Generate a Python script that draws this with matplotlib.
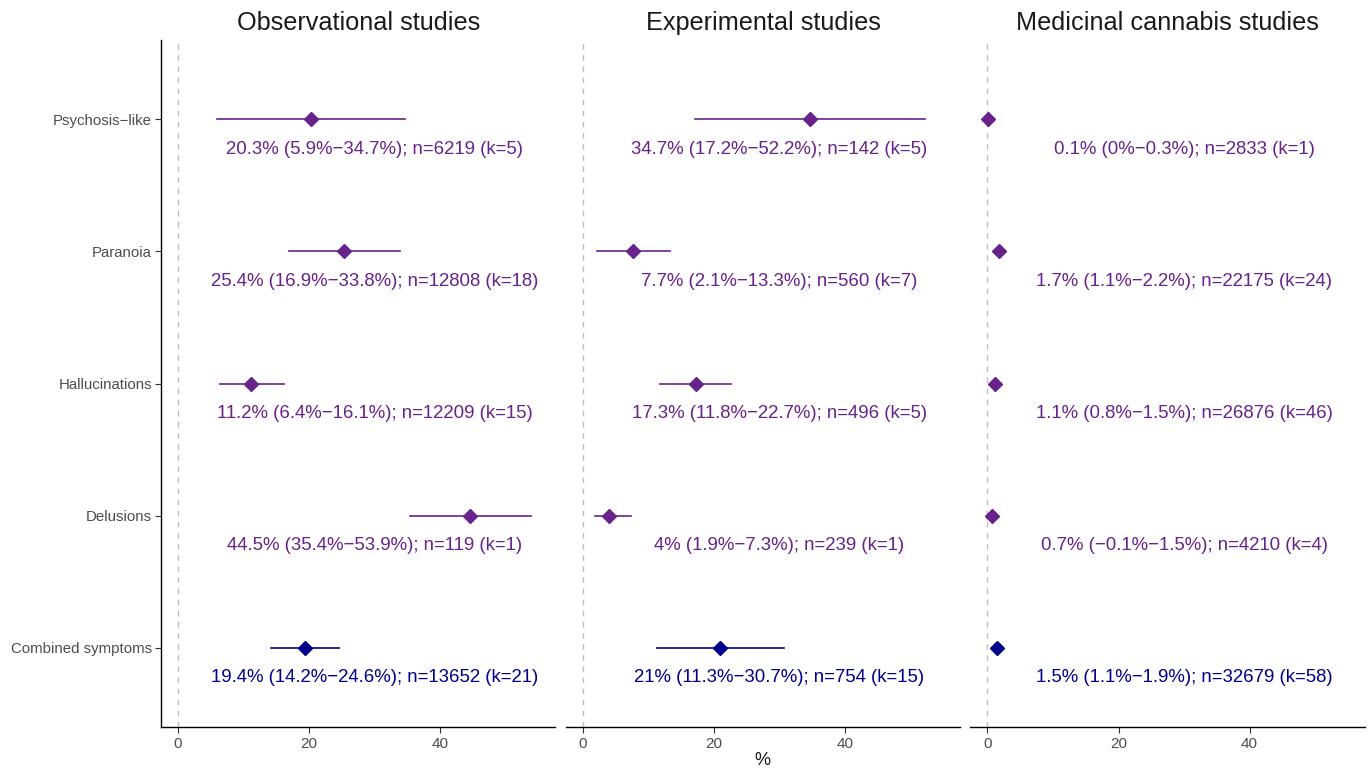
import matplotlib.pyplot as plt

plt.rcParams['font.family'] = ['Liberation Sans', 'DejaVu Sans']

panels = ['Observational studies', 'Experimental studies', 'Medicinal cannabis studies']
symptoms = ['Psychosis\u2212like', 'Paranoia', 'Hallucinations', 'Delusions', 'Combined symptoms']

est = [[20.3, 25.4, 11.2, 44.5, 19.4],
       [34.7, 7.7, 17.3, 4, 21],
       [0.1, 1.7, 1.1, 0.7, 1.5]]
lo = [[5.9, 16.9, 6.4, 35.4, 14.2],
      [17.2, 2.1, 11.8, 1.9, 11.3],
      [0, 1.1, 0.8, -0.1, 1.1]]
hi = [[34.7, 33.8, 16.1, 53.9, 24.6],
      [52.2, 13.3, 22.7, 7.3, 30.7],
      [0.3, 2.2, 1.5, 1.5, 1.9]]
n = [[6219, 12808, 12209, 119, 13652],
     [142, 560, 496, 239, 754],
     [2833, 22175, 26876, 4210, 32679]]
k = [[5, 18, 15, 1, 21],
     [5, 7, 5, 1, 15],
     [1, 24, 46, 4, 58]]

purple = '#68228B'
blue = '#00008B'


def fmt(v):
    s = f'{v:g}'
    return s.replace('-', '\u2212')


fig, axes = plt.subplots(1, 3, figsize=(13.69, 7.71), dpi=100, sharey=True)
fig.subplots_adjust(left=0.1176, right=0.997, top=0.948, bottom=0.057, wspace=0.026)

ypos = [5, 4, 3, 2, 1]
for p, ax in enumerate(axes):
    ax.axvline(0, color='#BEBEBE', linestyle=(0, (4, 4)), linewidth=1.0, zorder=0)
    for i, y in enumerate(ypos):
        col = blue if i == len(ypos) - 1 else purple
        ax.plot([lo[p][i], hi[p][i]], [y, y], color=col, linewidth=1.2)
        ax.plot(est[p][i], y, marker='D', color=col, markersize=7, linestyle='none')
        label = (f'{fmt(est[p][i])}% ({fmt(lo[p][i])}%\u2212{fmt(hi[p][i])}%); '
                 f'n={n[p][i]} (k={k[p][i]})')
        ax.text(30, y - 0.225, label, color=col, fontsize=13.4, ha='center', va='center')
    ax.set_xlim(-2.6, 57.6)
    ax.set_ylim(0.4, 5.6)
    ax.set_xticks([0, 20, 40])
    ax.set_title(panels[p], fontsize=18.2, color='#1A1A1A', pad=7)
    for s in ['top', 'right']:
        ax.spines[s].set_visible(False)
    ax.spines['bottom'].set_linewidth(1.0)
    ax.tick_params(axis='x', labelsize=11, length=4, labelcolor='#4D4D4D', color='#333333')
    if p > 0:
        ax.spines['left'].set_visible(False)
        ax.tick_params(axis='y', left=False)

axes[0].set_yticks(ypos)
axes[0].set_yticklabels(symptoms)
axes[0].tick_params(axis='y', labelsize=10.8, labelcolor='#4D4D4D', color='#333333',
                    length=4, pad=2.5)
axes[0].spines['left'].set_linewidth(1.0)

fig.text(0.557, 0.002, '%', fontsize=13, ha='center', va='bottom', color='#1A1A1A')

fig.savefig('out.png', dpi=100)
